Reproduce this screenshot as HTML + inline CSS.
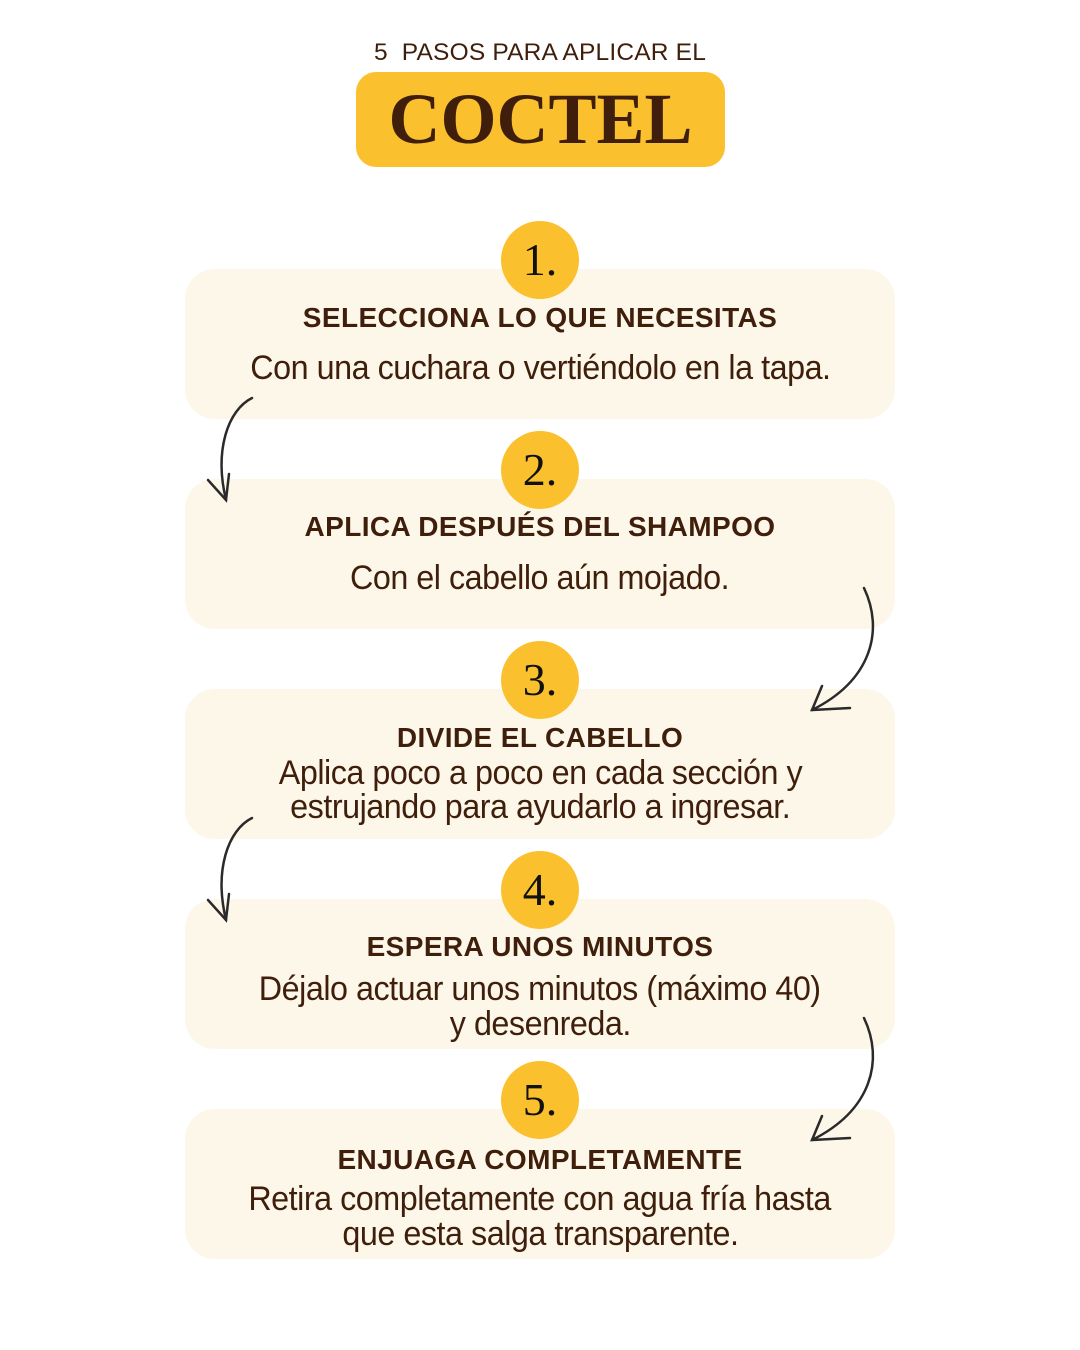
<!DOCTYPE html>
<html><head><meta charset="utf-8"><style>
body{margin:0;width:1080px;height:1350px;background:#fff;position:relative;overflow:hidden;font-family:"Liberation Sans",sans-serif;color:#3f1f0b}
.card{position:absolute;left:185px;width:710px;height:150px;background:#fdf7e9;border-radius:30px}
.circ{position:absolute;left:501px;width:78px;height:78px;border-radius:50%;background:#fbc02d;font-family:"Liberation Serif",serif;font-size:46px;color:#111;text-align:center;line-height:78px}
.t{position:absolute;left:0;width:1080px;text-align:center;font-weight:bold;font-size:28px;letter-spacing:.4px;line-height:34px}
.b{position:absolute;left:0;width:1080px;text-align:center;font-size:34px;line-height:36px}
.b span{display:inline-block;transform:scaleX(.95);letter-spacing:-.5px;white-space:nowrap}
</style></head><body>
<div style="position:absolute;left:0;width:1080px;top:37px;text-align:center;font-size:24.5px;line-height:32px;letter-spacing:.2px">5&nbsp; PASOS PARA APLICAR EL</div>
<div style="position:absolute;left:356px;top:72px;width:369px;height:95px;background:#fbc02d;border-radius:20px;text-align:center;font-family:'Liberation Serif',serif;font-weight:bold;font-size:72px;line-height:95px;letter-spacing:0">COCTEL</div>

<div class="card" style="top:269px"></div>
<div class="card" style="top:479px"></div>
<div class="card" style="top:689px"></div>
<div class="card" style="top:899px"></div>
<div class="card" style="top:1109px"></div>

<div class="circ" style="top:221px">1.</div>
<div class="circ" style="top:431px">2.</div>
<div class="circ" style="top:641px">3.</div>
<div class="circ" style="top:851px">4.</div>
<div class="circ" style="top:1061px">5.</div>

<div class="t" style="top:301px">SELECCIONA LO QUE NECESITAS</div>
<div class="b" style="top:350px"><span>Con una cuchara o vertiéndolo en la tapa.</span></div>
<div class="t" style="top:510px">APLICA DESPUÉS DEL SHAMPOO</div>
<div class="b" style="top:560px"><span>Con el cabello aún mojado.</span></div>
<div class="t" style="top:721px">DIVIDE EL CABELLO</div>
<div class="b" style="top:755px"><span>Aplica poco a poco en cada sección y</span></div>
<div class="b" style="top:789px"><span>estrujando para ayudarlo a ingresar.</span></div>
<div class="t" style="top:930px">ESPERA UNOS MINUTOS</div>
<div class="b" style="top:971px"><span>Déjalo actuar unos minutos (máximo 40)</span></div>
<div class="b" style="top:1006px"><span>y desenreda.</span></div>
<div class="t" style="top:1143px">ENJUAGA COMPLETAMENTE</div>
<div class="b" style="top:1181px"><span>Retira completamente con agua fría hasta</span></div>
<div class="b" style="top:1216px"><span>que esta salga transparente.</span></div>

<svg width="1080" height="1350" style="position:absolute;left:0;top:0" fill="none" stroke="#2a2a2a" stroke-width="2.5" stroke-linecap="round">
<path d="M252 398 C228 410 214 450 226 500"/><path d="M208 480 L226 500 L229 474"/>
<path d="M252 818 C228 830 214 870 226 920"/><path d="M208 900 L226 920 L229 894"/>
<path d="M864 588 C884 630 872 680 812 710"/><path d="M822 686 L812 710 L850 708"/>
<path d="M864 1018 C884 1060 872 1110 812 1140"/><path d="M822 1116 L812 1140 L850 1138"/>
</svg>
</body></html>
